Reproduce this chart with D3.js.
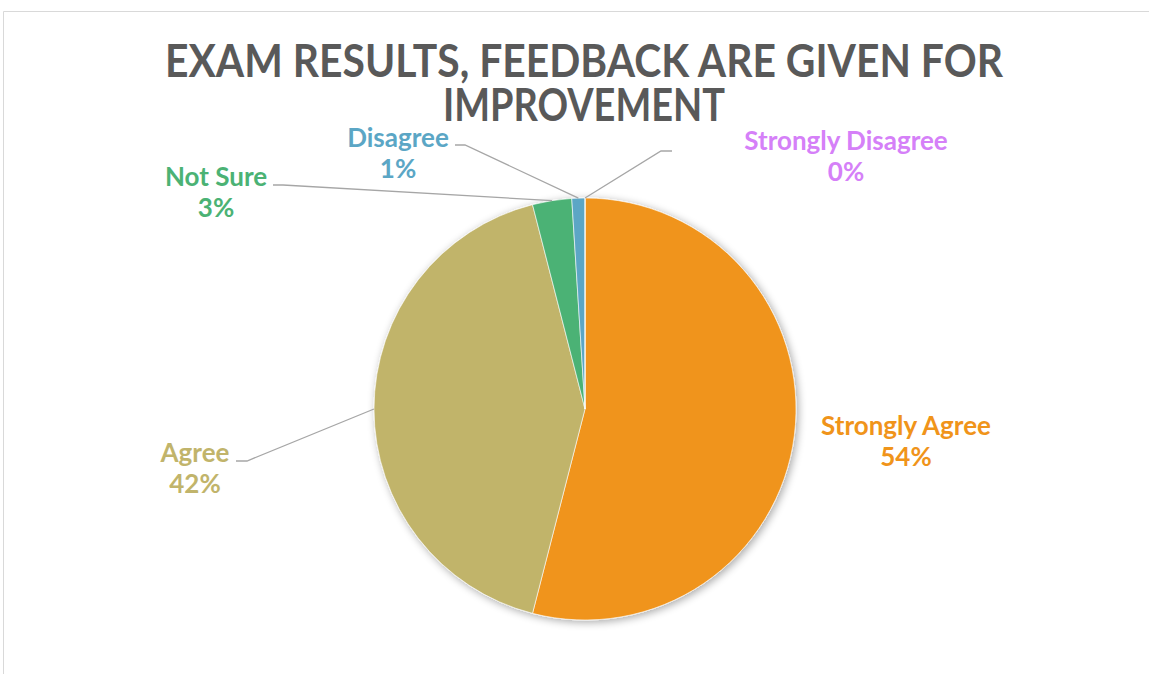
<!DOCTYPE html>
<html>
<head>
<meta charset="utf-8">
<script src="https://cdn.jsdelivr.net/npm/d3@7"></script>
<style>
  body { margin: 0; background: #fff; }
  svg { display: block; }
</style>
</head>
<body>
<svg id="chart" width="1149" height="674"></svg>
<script>
// answers, clockwise from 12 o'clock
var categories = ["Strongly Agree", "Agree", "Not Sure", "Disagree", "Strongly Disagree"];
var values = [54, 42, 3, 1, 0];
var colors = ["#F0941A", "#C1B46B", "#4BB274", "#5BA6C5", "#D580F8"];
var titleLines = ["EXAM RESULTS, FEEDBACK ARE GIVEN FOR", "IMPROVEMENT"];

// where Excel parked each label (centre x, baseline of first line), plus leader elbow
var labelPos = [
  {x: 906, y: 435, elbow: null},
  {x: 195, y: 462, elbow: [[236, 461], [247, 461]]},
  {x: 216, y: 186, elbow: [[273, 185], [283, 185]]},
  {x: 398, y: 147, elbow: [[455, 145], [465, 145]]},
  {x: 846, y: 150, elbow: [[672, 151], [661, 151]]}
];

var svg = d3.select("#chart");
var cx = 585, cy = 409, radius = 211;

// chart area border (runs off the right and bottom)
svg.append("path")
    .attr("d", "M3.5,674 V11.5 H1149")
    .attr("fill", "none")
    .attr("stroke", "#d9d9d9")
    .attr("stroke-width", 1);

var defs = svg.append("defs");
var shadow = defs.append("filter")
    .attr("id", "shadow")
    .attr("x", "-20%").attr("y", "-20%")
    .attr("width", "140%").attr("height", "140%");
shadow.append("feGaussianBlur").attr("in", "SourceAlpha").attr("stdDeviation", 4);
shadow.append("feOffset").attr("dx", 2).attr("dy", 2).attr("result", "blur");
shadow.append("feComponentTransfer").append("feFuncA").attr("type", "linear").attr("slope", 0.35);
var merge = shadow.append("feMerge");
merge.append("feMergeNode");
merge.append("feMergeNode").attr("in", "SourceGraphic");

var title = svg.append("g")
    .attr("fill", "#595959")
    .style("font", "bold 46px Lato, sans-serif")
    .attr("text-anchor", "middle");

title.selectAll("text")
  .data(titleLines)
  .join("text")
    .attr("x", 584)
    .attr("y", (d, i) => 77 + i * 44)
    .text(d => d)
    .each(function(d, i) {
      // title face in the original is narrow, squeeze to its width
      var target = i === 0 ? 838 : 282;
      d3.select(this).attr("textLength", target).attr("lengthAdjust", "spacingAndGlyphs");
    });

var pie = d3.pie().sort(null).value(d => d);
var arcs = pie(values);
var arc = d3.arc().innerRadius(0).outerRadius(radius);
var edge = d3.arc().innerRadius(radius).outerRadius(radius);

var g = svg.append("g").attr("transform", "translate(" + cx + "," + cy + ")");

g.append("g")
    .attr("filter", "url(#shadow)")
  .selectAll("path")
  .data(arcs)
  .join("path")
    .attr("d", arc)
    .attr("fill", (d, i) => colors[i])
    .attr("stroke", "#fff")
    .attr("stroke-width", 0.6);

// leader lines
svg.append("g")
  .selectAll("polyline")
  .data(arcs.filter((d, i) => labelPos[i].elbow))
  .join("polyline")
    .attr("fill", "none")
    .attr("stroke", "#a6a6a6")
    .attr("stroke-width", 1.3)
    .attr("points", function(d) {
      var p = labelPos[d.index];
      var c = edge.centroid(d);
      var pts = p.elbow.concat([[cx + c[0], cy + c[1]]]);
      return pts.map(q => q.join(",")).join(" ");
    });

var labels = svg.append("g")
    .style("font", "bold 26px Lato, sans-serif")
    .attr("text-anchor", "middle");

labels.selectAll("text")
  .data(arcs)
  .join("text")
    .attr("fill", (d, i) => colors[i])
    .attr("x", (d, i) => labelPos[i].x)
    .attr("y", (d, i) => labelPos[i].y)
    .each(function(d, i) {
      var t = d3.select(this);
      t.append("tspan").attr("x", labelPos[i].x).text(categories[i]);
      t.append("tspan").attr("x", labelPos[i].x).attr("dy", 31).text(values[i] + "%");
    });
</script>
</body>
</html>
